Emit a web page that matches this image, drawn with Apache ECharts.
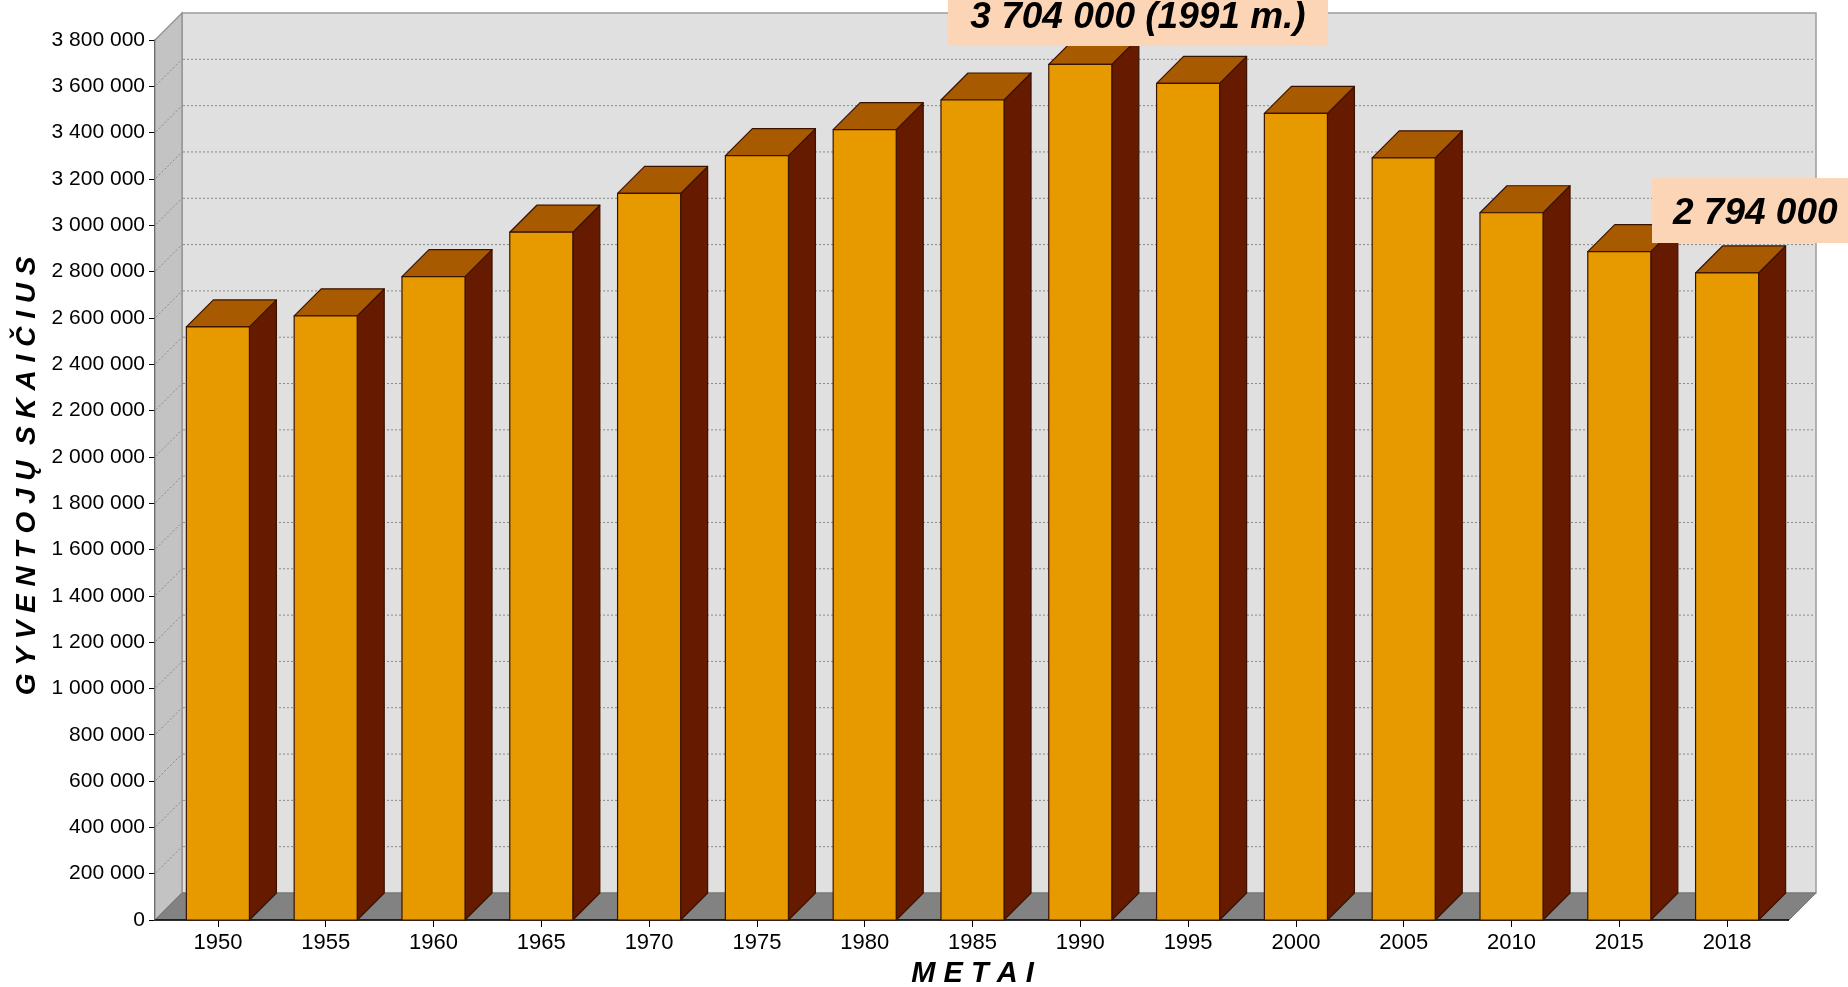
<!DOCTYPE html>
<html>
<head>
<meta charset="utf-8">
<script src="https://cdn.jsdelivr.net/npm/echarts@6/dist/echarts.min.js"></script>
<style>
html,body{margin:0;padding:0;background:#ffffff;}
#c{width:1848px;height:987px;}
</style>
</head>
<body>
<div id="c"></div>
<script>
// ---- data ----
const years = ['1950','1955','1960','1965','1970','1975','1980','1985','1990','1995','2000','2005','2010','2015','2018'];
const population = [2561000, 2609000, 2778000, 2970000, 3138000, 3301000, 3413000, 3541000, 3695000, 3613000, 3483000, 3291000, 3054000, 2886000, 2794000];
const yTicks = [0,200000,400000,600000,800000,1000000,1200000,1400000,1600000,1800000,2000000,2200000,2400000,2600000,2800000,3000000,3200000,3400000,3600000,3800000];
const peakLabel = '3 704 000 (1991 m.)';
const lastLabel = '2 794 000';
const yAxisTitle = 'G Y V E N T O J Ų  S K A I Č I U S';
const xAxisTitle = 'M E T A I';

// ---- style ----
const FONT = "'Liberation Sans', Arial, sans-serif";
const DEPTH = 27;
const Y_MAX = yTicks[yTicks.length - 1];
const Y_STEP = yTicks[1] - yTicks[0];

function fmt(v){ return String(v).replace(/\B(?=(\d{3})+(?!\d))/g, ' '); }

function renderFrame(params, api){
  const cs = params.coordSys;
  const L = cs.x - 9, R = cs.x + cs.width + 8, T = cs.y, B = cs.y + cs.height, D = DEPTH;
  const ch = [];
  ch.push({type:'rect', shape:{x:L+D, y:T-D, width:R-L, height:B-T},
    style:{fill:'#E0E0E0', stroke:'#9C9C9C', lineWidth:1.5}});
  ch.push({type:'polygon', shape:{points:[[L,T],[L+D,T-D],[L+D,B-D],[L,B]]},
    style:{fill:'#C3C3C3', stroke:'#8E8E8E', lineWidth:1.2}});
  ch.push({type:'polygon', shape:{points:[[L,B],[L+D,B-D],[R+D,B-D],[R,B]]},
    style:{fill:'#828282', stroke:'#747474', lineWidth:1}});
  yTicks.forEach(function(v){
    if (v <= 0 || v >= Y_MAX) return;
    const y = api.coord([0, v])[1];
    ch.push({type:'line', shape:{x1:L+D+1, y1:y-D, x2:R+D-1, y2:y-D},
      style:{stroke:'#8A8A8A', lineWidth:1, lineDash:[2,2]}});
    ch.push({type:'line', shape:{x1:L+1, y1:y-1, x2:L+D, y2:y-D},
      style:{stroke:'#8A8A8A', lineWidth:1, lineDash:[2,2]}});
  });
  ch.push({type:'line', shape:{x1:L, y1:B, x2:R, y2:B}, style:{stroke:'#000', lineWidth:1.5}});
  return {type:'group', children:ch};
}

function renderBar(params, api){
  const xi = api.value(0), v = api.value(1);
  const top = api.coord([xi, v]), base = api.coord([xi, 0]);
  const bw = api.size([1, 0])[0] * 0.585;
  const x0 = top[0] - bw/2, x1 = top[0] + bw/2, yt = top[1], yb = base[1], D = DEPTH;
  const st = {stroke:'#3A1200', lineWidth:1.2, lineJoin:'round'};
  return {type:'group', children:[
    {type:'polygon', shape:{points:[[x1,yt],[x1+D,yt-D],[x1+D,yb-D],[x1,yb]]},
      style:Object.assign({fill:'#661A00'}, st)},
    {type:'polygon', shape:{points:[[x0,yt],[x0+D,yt-D],[x1+D,yt-D],[x1,yt]]},
      style:Object.assign({fill:'#A85A00'}, st)},
    {type:'rect', shape:{x:x0, y:yt, width:bw, height:yb-yt},
      style:Object.assign({fill:'#E79A00'}, st)}
  ]};
}

const chart = echarts.init(document.getElementById('c'), null, {renderer:'canvas'});
chart.setOption({
  animation:false,
  backgroundColor:'#ffffff',
  grid:{left:164, right:67, top:40, bottom:67, containLabel:false, outerBoundsMode:'none'},
  xAxis:{
    type:'category', data:years, boundaryGap:true,
    axisLine:{show:false},
    axisTick:{show:true, alignWithLabel:true, length:7, lineStyle:{color:'#000', width:1}},
    axisLabel:{fontSize:22, color:'#000', margin:12, fontFamily:FONT},
    splitLine:{show:false},
    name:xAxisTitle, nameLocation:'middle', nameGap:39,
    nameTextStyle:{fontSize:29, fontWeight:'bold', fontStyle:'italic', color:'#000', fontFamily:FONT}
  },
  yAxis:{
    type:'value', min:0, max:Y_MAX, interval:Y_STEP, offset:9,
    axisLine:{show:true, lineStyle:{color:'#000', width:1.5}},
    axisTick:{show:true, length:6, lineStyle:{color:'#000', width:1}},
    axisLabel:{formatter:fmt, fontSize:21, color:'#000', margin:10, fontFamily:FONT},
    splitLine:{show:false}
  },
  series:[
    {type:'custom', name:'frame', renderItem:renderFrame, data:[[0,0]], clip:false, z:1, silent:true},
    {type:'custom', name:'Gyventojai', renderItem:renderBar,
      data:population.map(function(v,i){return [i,v];}),
      encode:{x:0, y:1}, clip:false, z:3}
  ],
  graphic:[
    {type:'text', z:50, x:27, y:476, rotation:Math.PI/2, style:{text:yAxisTitle, fill:'#000', align:'center', verticalAlign:'middle',
      font:"italic bold 28px 'Liberation Sans', Arial, sans-serif"}},
    {type:'rect', z:100, shape:{x:948, y:-10, width:380, height:56}, style:{fill:'#FBD5B5'}},
    {type:'text', z:101, x:1138, y:18, style:{text:peakLabel, fill:'#000', align:'center', verticalAlign:'middle',
      font:"italic bold 37px 'Liberation Sans', Arial, sans-serif"}},
    {type:'rect', z:100, shape:{x:1652, y:178, width:200, height:65}, style:{fill:'#FBD5B5'}},
    {type:'text', z:101, x:1673, y:214, style:{text:lastLabel, fill:'#000', align:'left', verticalAlign:'middle',
      font:"italic bold 37px 'Liberation Sans', Arial, sans-serif"}}
  ]
});
</script>
</body>
</html>
